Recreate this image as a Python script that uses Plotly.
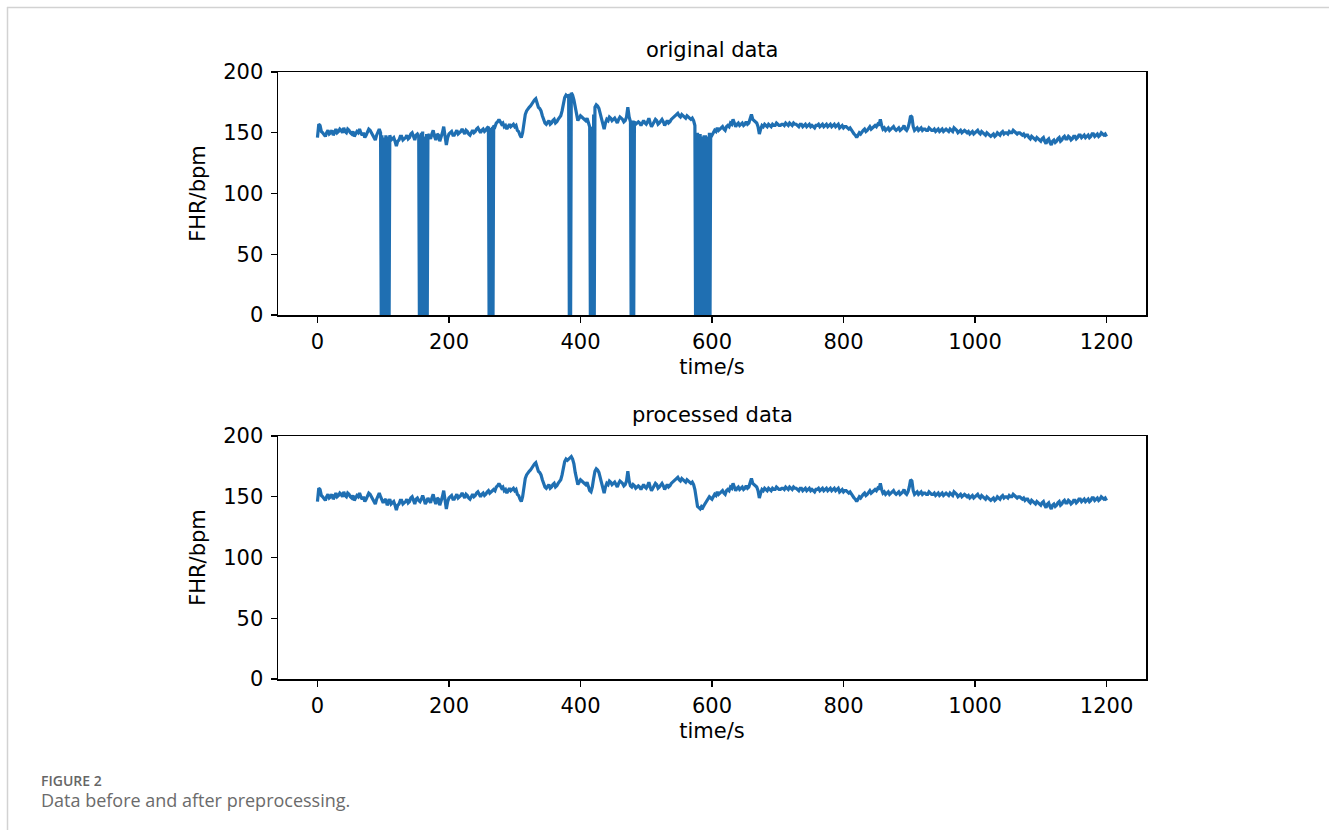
import plotly.graph_objects as go

# ---------------- data ----------------
# processed FHR (bpm), sampled every 2 s from 0 to 1200 s (one row = 20 s)
time_step = 2
processed_bpm = [
    146, 157, 156, 151, 150, 148, 147, 150, 152, 149,   # 0
    150, 152, 148, 150, 153, 150, 151, 153, 152, 150,   # 20
    154, 151, 150, 153, 152, 150, 149, 151, 147, 149,   # 40
    151, 150, 153, 150, 148, 150, 146, 148, 150, 153,   # 60
    152, 150, 148, 147, 144, 148, 151, 153, 150, 147,   # 80
    145, 147, 148, 143, 146, 148, 144, 145, 146, 143,   # 100
    139, 143, 144, 147, 147, 144, 145, 146, 148, 145,   # 120
    146, 149, 150, 147, 144, 148, 149, 147, 146, 148,   # 140
    151, 148, 144, 146, 149, 147, 145, 149, 152, 147,   # 160
    144, 149, 148, 143, 146, 150, 155, 148, 140, 146,   # 180
    149, 150, 151, 148, 148, 150, 152, 149, 150, 151,   # 200
    153, 151, 149, 152, 151, 149, 148, 150, 152, 150,   # 220
    151, 153, 154, 152, 150, 152, 153, 151, 152, 154,   # 240
    155, 153, 154, 155, 156, 155, 158, 159, 161, 159,   # 260
    157, 158, 155, 156, 153, 155, 157, 155, 156, 157,   # 280
    155, 156, 152, 151, 148, 146, 150, 158, 165, 168,   # 300
    170, 171, 172, 174, 176, 177, 178, 175, 171, 170,   # 320
    168, 164, 160, 158, 157, 159, 160, 157, 158, 160,   # 340
    161, 158, 159, 161, 163, 164, 168, 174, 179, 181,   # 360
    180, 181, 182, 183, 181, 177, 170, 163, 160, 162,   # 380
    164, 163, 162, 161, 160, 162, 157, 155, 154, 158,   # 400
    165, 171, 173, 172, 170, 166, 163, 157, 153, 158,   # 420
    161, 160, 163, 162, 160, 161, 162, 160, 158, 161,   # 440
    163, 162, 161, 159, 160, 163, 171, 163, 159, 158,   # 460
    160, 159, 157, 158, 159, 158, 156, 158, 160, 158,   # 480
    157, 159, 162, 158, 155, 157, 159, 161, 160, 157,   # 500
    158, 160, 161, 159, 156, 158, 160, 158, 159, 161,   # 520
    162, 163, 164, 165, 166, 164, 163, 165, 164, 163,   # 540
    162, 164, 163, 162, 161, 162, 160, 156, 147, 142,   # 560
    141, 140, 142, 141, 143, 145, 147, 149, 150, 149,   # 580
    148, 150, 152, 151, 154, 152, 153, 154, 155, 153,   # 600
    152, 155, 156, 155, 158, 157, 161, 158, 155, 157,   # 620
    158, 156, 157, 158, 156, 157, 159, 157, 158, 161,   # 640
    165, 161, 160, 159, 158, 155, 149, 153, 156, 155,   # 660
    157, 156, 155, 157, 156, 155, 157, 156, 156, 158,   # 680
    157, 156, 156, 157, 157, 156, 158, 157, 156, 158,   # 700
    157, 156, 158, 157, 157, 156, 155, 157, 157, 155,   # 720
    156, 157, 155, 156, 157, 155, 156, 155, 154, 156,   # 740
    156, 157, 155, 156, 157, 155, 156, 157, 155, 156,   # 760
    157, 155, 156, 157, 155, 156, 157, 154, 155, 156,   # 780
    154, 155, 155, 154, 153, 154, 152, 151, 149, 148,   # 800
    146, 148, 150, 149, 151, 152, 153, 151, 152, 154,   # 820
    155, 153, 154, 155, 156, 155, 157, 156, 161, 156,   # 840
    153, 154, 152, 153, 154, 152, 153, 154, 155, 153,   # 860
    152, 153, 154, 152, 153, 154, 156, 153, 152, 154,   # 880
    158, 164, 163, 155, 152, 153, 154, 152, 153, 154,   # 900
    152, 153, 153, 152, 152, 154, 153, 152, 152, 153,   # 920
    151, 152, 153, 151, 152, 153, 151, 152, 153, 152,   # 940
    151, 153, 152, 151, 154, 153, 152, 150, 151, 152,   # 960
    150, 151, 152, 151, 150, 151, 149, 150, 151, 149,   # 980
    150, 151, 152, 150, 149, 151, 150, 149, 148, 150,   # 1000
    149, 148, 147, 148, 149, 147, 148, 150, 149, 148,   # 1020
    150, 151, 149, 150, 150, 149, 151, 150, 150, 152,   # 1040
    151, 150, 149, 150, 150, 149, 148, 149, 147, 148,   # 1060
    148, 146, 145, 147, 146, 145, 144, 146, 145, 144,   # 1080
    143, 145, 146, 143, 141, 144, 145, 142, 140, 143,   # 1100
    144, 142, 143, 145, 146, 143, 144, 146, 147, 145,   # 1120
    145, 147, 146, 144, 145, 147, 147, 145, 146, 148,   # 1140
    148, 146, 147, 148, 146, 147, 148, 146, 147, 149,   # 1160
    149, 147, 148, 149, 147, 148, 150, 149, 148, 149,   # 1180
    147,                                                # 1200
]
processed_time = [i * time_step for i in range(len(processed_bpm))]

# raw samples of the original recording that differ from the processed one
# (signal-loss dropouts to 0 bpm)
raw_time = [
    97, 98, 99, 101, 102, 103, 105, 106, 107, 109,
    155, 157, 158, 159, 161, 162, 163, 165, 166, 167,
    261, 262, 263, 265, 266, 267,
    383, 385,
    415, 417, 418, 419, 421,
    477, 478, 479, 481,
    575, 576, 577, 578, 579, 580, 581, 582, 583, 584, 585, 586, 587, 588,
    589, 590, 591, 592, 593, 594, 595, 597,
]
raw_bpm = [
    0, 148, 0, 0, 146, 0, 0, 147, 0, 0,
    0, 0, 150, 0, 0, 147, 0, 0, 149, 0,
    0, 154, 0, 0, 155, 0,
    0, 0,
    0, 0, 155, 0, 0,
    0, 160, 0, 0,
    0, 150, 0, 150, 0, 148, 0, 149, 0, 147, 0, 147, 0, 148,
    0, 148, 0, 147, 0, 147, 0, 0,
]

x_ticks = [0, 200, 400, 600, 800, 1000, 1200]
y_ticks = [0, 50, 100, 150, 200]

# ---------------- build series ----------------
orig = dict(zip(processed_time, processed_bpm))
orig.update(dict(zip(raw_time, raw_bpm)))
orig_time = sorted(orig)
orig_bpm = [orig[t] for t in orig_time]

W, H = 1329, 830
LINE = "#1f6fb2"
FONT = "DejaVu Sans"
LW = 3.2

fig = go.Figure()
fig.add_trace(go.Scatter(x=orig_time, y=orig_bpm, mode="lines",
                         line=dict(color=LINE, width=LW), xaxis="x", yaxis="y",
                         showlegend=False, hoverinfo="skip"))
fig.add_trace(go.Scatter(x=processed_time, y=processed_bpm, mode="lines",
                         line=dict(color=LINE, width=LW), xaxis="x2", yaxis="y2",
                         showlegend=False, hoverinfo="skip"))

xd = [278 / W, 1146 / W]
yd_top = [1 - 315 / H, 1 - 72 / H]
yd_bot = [1 - 679 / H, 1 - 436 / H]

def xaxis(anchor):
    return dict(domain=xd, anchor=anchor, range=[-60, 1260], tickvals=x_ticks,
                ticks="outside", ticklen=6, tickwidth=1.3, tickcolor="black",
                showline=True, linecolor="black", linewidth=1.5, mirror=True,
                showgrid=False, zeroline=False, ticklabelstandoff=1,
                automargin=False,
                tickfont=dict(family=FONT, size=21, color="black"),
                title=dict(text="time/s", standoff=6,
                           font=dict(family=FONT, size=21, color="black")))

def yaxis(anchor, dom):
    return dict(domain=dom, anchor=anchor, range=[0, 200], tickvals=y_ticks,
                ticks="outside", ticklen=6, tickwidth=1.3, tickcolor="black",
                showline=True, linecolor="black", linewidth=1.5, mirror=True,
                showgrid=False, zeroline=False, ticklabelstandoff=3,
                automargin=False,
                tickfont=dict(family=FONT, size=21, color="black"),
                title=dict(text="FHR/bpm", standoff=12,
                           font=dict(family=FONT, size=21, color="black")))

fig.update_layout(
    template="none",
    width=W, height=H, autosize=False,
    margin=dict(l=0, r=0, t=0, b=0, pad=0, autoexpand=False),
    paper_bgcolor="white", plot_bgcolor="white", showlegend=False,
    xaxis=xaxis("y"), yaxis=yaxis("x", yd_top),
    xaxis2=xaxis("y2"), yaxis2=yaxis("x2", yd_bot),
    annotations=[
        dict(text="original data", x=(xd[0] + xd[1]) / 2, y=1 - 50 / H,
             xref="paper", yref="paper", showarrow=False, xanchor="center",
             yanchor="middle", font=dict(family=FONT, size=21, color="black")),
        dict(text="processed data", x=(xd[0] + xd[1]) / 2, y=1 - 415 / H,
             xref="paper", yref="paper", showarrow=False, xanchor="center",
             yanchor="middle", font=dict(family=FONT, size=21, color="black")),
        dict(text="FIGURE 2", x=39 / W, y=1 - 780 / H, xref="paper",
             yref="paper", showarrow=False, xanchor="left", yanchor="middle",
             font=dict(family="Open Sans", size=14, color="#666666", weight=600)),
        dict(text="Data before and after preprocessing.", x=39 / W,
             y=1 - 800 / H, xref="paper", yref="paper", showarrow=False,
             xanchor="left", yanchor="middle",
             font=dict(family="Open Sans", size=18, color="#6b6b6b")),
    ],
    shapes=[
        dict(type="line", xref="paper", yref="paper", x0=7 / W, x1=1,
             y0=1 - 7.5 / H, y1=1 - 7.5 / H, line=dict(color="#d2d2d2", width=1.5)),
        dict(type="line", xref="paper", yref="paper", x0=7.5 / W, x1=7.5 / W,
             y0=0, y1=1 - 7 / H, line=dict(color="#d2d2d2", width=1.5)),
    ],
)

fig.write_html("out.html", config={"displayModeBar": False, "staticPlot": True})

# remove the default page margin so the figure sits at the window origin
with open("out.html", encoding="utf-8") as f:
    html = f.read()
html = html.replace("<head>", "<head><style>html,body{margin:0;padding:0;overflow:hidden;}</style>", 1)
with open("out.html", "w", encoding="utf-8") as f:
    f.write(html)
